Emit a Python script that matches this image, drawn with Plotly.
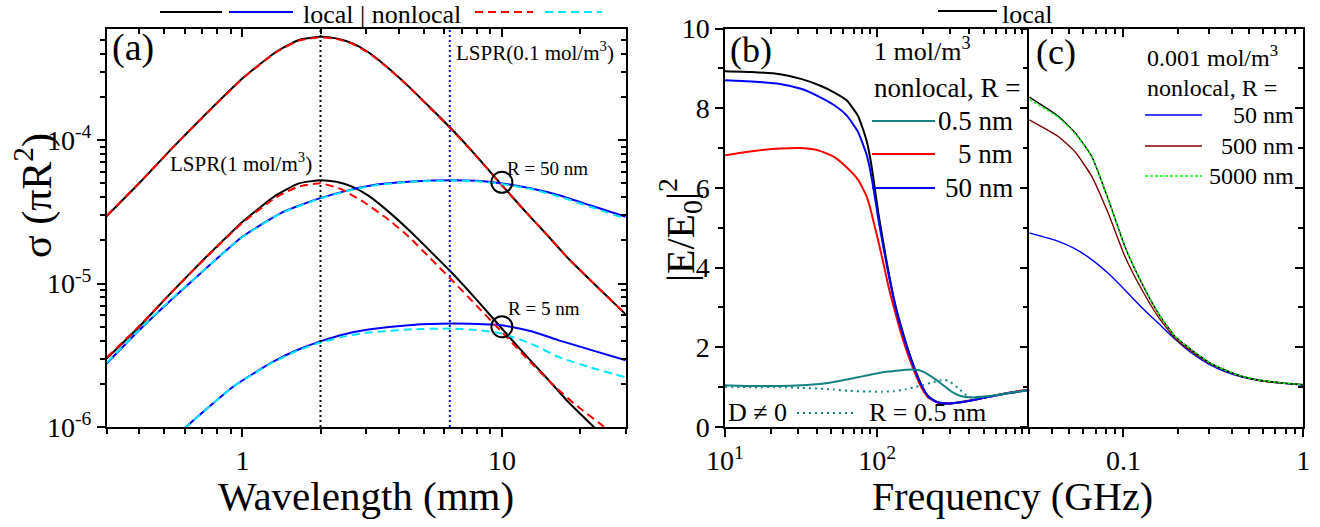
import math
import plotly.graph_objects as go

FONT = "Liberation Serif"
W, H = 1320, 527
OFF = 0  # body margin removed by post_script

# ================= DATA =================
# ---- panel (a): sigma (pi R^2) vs wavelength (mm) ----
wl_1mol = [0.3, 0.4, 0.54, 0.725, 1.0, 1.35, 1.65, 2.0, 2.3, 2.66, 3.06, 3.6, 4.39, 5.3, 6.44, 8.0, 9.86, 12.0, 14.7, 18.0, 22.6, 30.0]
loc_r50_1mol = [2.95e-5, 5.0e-5, 8.9e-5, 1.53e-4, 2.69e-4, 4.13e-4, 4.99e-4, 5.25e-4, 5.12e-4, 4.72e-4, 4.1e-4, 3.25e-4, 2.35e-4, 1.68e-4, 1.18e-4, 7.7e-5, 5.0e-5, 3.35e-5, 2.25e-5, 1.5e-5, 1.0e-5, 6.1e-6]
nl_r50_1mol = [2.97e-5, 5.02e-5, 8.9e-5, 1.52e-4, 2.68e-4, 4.1e-4, 4.95e-4, 5.2e-4, 5.08e-4, 4.68e-4, 4.07e-4, 3.23e-4, 2.34e-4, 1.67e-4, 1.17e-4, 7.65e-5, 4.98e-5, 3.35e-5, 2.25e-5, 1.5e-5, 1.0e-5, 6.1e-6]
loc_r5_1mol = [3.0e-6, 5.0e-6, 8.9e-6, 1.53e-5, 2.69e-5, 4.13e-5, 4.99e-5, 5.26e-5, 5.12e-5, 4.72e-5, 4.1e-5, 3.25e-5, 2.35e-5, 1.68e-5, 1.18e-5, 7.7e-6, 5.0e-6, 3.35e-6, 2.25e-6, 1.5e-6, 1.0e-6, 6.1e-7]

wl_nl_r5_1mol = [0.3, 0.4, 0.54, 0.725, 1.0, 1.35, 1.65, 2.0, 2.4, 2.9, 3.6, 4.39, 5.3, 6.44, 8.0, 9.86, 12.5, 15.6, 19.5, 24.3, 30.0]
nl_r5_1mol = [3.05e-6, 5.05e-6, 8.9e-6, 1.52e-5, 2.65e-5, 4.0e-5, 4.75e-5, 5.0e-5, 4.55e-5, 3.75e-5, 2.85e-5, 2.11e-5, 1.5e-5, 1.05e-5, 7.0e-6, 4.72e-6, 3.0e-6, 2.0e-6, 1.4e-6, 1.03e-6, 7.6e-7]

wl_r50_01mol = [0.3, 0.4, 0.54, 0.725, 1.0, 1.43, 1.97, 2.6, 3.3, 4.5, 6.44, 8.0, 10.0, 13.0, 16.6, 22.0, 30.0]
loc_r50_01mol = [2.77e-6, 4.72e-6, 7.9e-6, 1.28e-5, 2.12e-5, 3.15e-5, 3.91e-5, 4.5e-5, 4.9e-5, 5.15e-5, 5.26e-5, 5.2e-5, 4.99e-5, 4.6e-5, 4.13e-5, 3.5e-5, 2.92e-5]
nl_r50_01mol = [2.8e-6, 4.75e-6, 7.95e-6, 1.28e-5, 2.11e-5, 3.13e-5, 3.89e-5, 4.47e-5, 4.87e-5, 5.12e-5, 5.23e-5, 5.17e-5, 4.95e-5, 4.55e-5, 4.05e-5, 3.42e-5, 2.83e-5]

wl_r5_01mol = [0.55, 0.607, 0.75, 0.918, 1.1, 1.31, 1.6, 1.97, 2.5, 3.06, 4.5, 6.44, 8.0, 10.0, 13.0, 16.6, 22.0, 30.0]
loc_r5_01mol = [8.4e-7, 1.0e-6, 1.4e-6, 1.9e-6, 2.35e-6, 2.84e-6, 3.4e-6, 3.92e-6, 4.45e-6, 4.78e-6, 5.15e-6, 5.26e-6, 5.22e-6, 5.12e-6, 4.65e-6, 4.02e-6, 3.45e-6, 2.92e-6]
nl_r5_01mol = [8.4e-7, 1.0e-6, 1.4e-6, 1.9e-6, 2.34e-6, 2.82e-6, 3.36e-6, 3.85e-6, 4.3e-6, 4.55e-6, 4.8e-6, 4.85e-6, 4.75e-6, 4.48e-6, 3.8e-6, 3.07e-6, 2.6e-6, 2.22e-6]

lspr_wl = [2.0, 6.3]                 # LSPR for 1 and 0.1 mol/m^3
circle_wl = [10.0, 10.0]
circle_sig = [5.08e-5, 5.0e-6]

# ---- panel (b): |E/E0|^2 vs frequency, 1 mol/m^3 ----
f_b = [10, 15, 23, 32, 42, 52, 63, 75, 85, 90, 94, 102, 110, 120, 132, 145, 160, 177, 195, 217, 250, 293, 380, 486, 700, 1000]
e_local_b = [8.93, 8.91, 8.85, 8.73, 8.57, 8.4, 8.2, 7.8, 7.2, 6.75, 6.3, 5.35, 4.6, 3.8, 3.05, 2.47, 1.93, 1.45, 1.06, 0.77, 0.62, 0.59, 0.64, 0.72, 0.84, 0.93]
e_r50_b = [8.70, 8.67, 8.61, 8.48, 8.28, 8.08, 7.82, 7.4, 6.85, 6.45, 6.05, 5.2, 4.5, 3.75, 3.0, 2.43, 1.9, 1.43, 1.05, 0.76, 0.62, 0.59, 0.64, 0.72, 0.84, 0.93]
e_r5_b = [6.82, 6.92, 6.99, 7.0, 6.93, 6.78, 6.52, 6.2, 5.8, 5.5, 5.2, 4.65, 4.1, 3.45, 2.85, 2.3, 1.8, 1.36, 1.0, 0.74, 0.61, 0.59, 0.64, 0.72, 0.85, 0.94]
f_b05 = [10, 15, 23, 32, 42, 52, 64.6, 80, 95, 118, 140, 165, 186, 205, 230, 265, 310, 359, 420, 486, 600, 750, 1000]
e_r05_b = [1.05, 1.03, 1.03, 1.05, 1.08, 1.13, 1.2, 1.27, 1.33, 1.39, 1.42, 1.44, 1.43, 1.37, 1.25, 1.08, 0.88, 0.77, 0.74, 0.76, 0.8, 0.86, 0.93]
f_bD = [10, 15, 23, 32, 42, 52, 64.6, 85, 107, 130, 155, 177, 200, 230, 260, 279, 300, 342, 398, 450, 520, 620, 800, 1000]
e_r05_D_b = [1.01, 1.0, 1.0, 0.98, 0.96, 0.94, 0.91, 0.89, 0.885, 0.9, 0.95, 1.0, 1.05, 1.12, 1.17, 1.18, 1.14, 0.97, 0.76, 0.73, 0.75, 0.8, 0.87, 0.93]

# ---- panel (c): |E/E0|^2 vs frequency (GHz), 0.001 mol/m^3 ----
f_c = [0.03, 0.0435, 0.054, 0.0667, 0.0826, 0.102, 0.1265, 0.156, 0.194, 0.24, 0.3, 0.367, 0.45, 0.562, 0.75, 1.0]
e_local_c = [8.28, 7.80, 7.38, 6.79, 5.70, 4.53, 3.61, 2.86, 2.27, 1.93, 1.62, 1.43, 1.28, 1.18, 1.11, 1.06]
e_r5000_c = [8.22, 7.77, 7.36, 6.78, 5.70, 4.53, 3.61, 2.86, 2.27, 1.93, 1.62, 1.43, 1.28, 1.18, 1.11, 1.06]
e_r500_c = [7.71, 7.29, 6.9, 6.29, 5.35, 4.28, 3.45, 2.77, 2.22, 1.89, 1.6, 1.42, 1.27, 1.17, 1.1, 1.06]
e_r50_c = [4.87, 4.66, 4.47, 4.20, 3.85, 3.44, 3.0, 2.61, 2.2, 1.85, 1.57, 1.39, 1.26, 1.17, 1.1, 1.05]

# tick definitions
a_xticks = [1, 10]
a_xlabels = ["1", "10"]
a_xminor = [0.3, 0.4, 0.5, 0.6, 0.7, 0.8, 0.9, 2, 3, 4, 5, 6, 7, 8, 9, 20, 30]
a_yticks = [1e-6, 1e-5, 1e-4]
a_ylabels = ["10<sup>-6</sup>", "10<sup>-5</sup>", "10<sup>-4</sup>"]
a_yminor = [2e-6, 3e-6, 4e-6, 5e-6, 6e-6, 7e-6, 8e-6, 9e-6, 2e-5, 3e-5, 4e-5, 5e-5, 6e-5, 7e-5, 8e-5, 9e-5, 2e-4, 3e-4, 4e-4, 5e-4]
b_xticks = [10, 100]
b_xlabels = ["10<sup>1</sup>", "10<sup>2</sup>"]
b_xminor = [20, 30, 40, 50, 60, 70, 80, 90, 200, 300, 400, 500, 600, 700, 800, 900]
e_yticks = [0, 2, 4, 6, 8, 10]
e_yminor = [1, 3, 5, 7, 9]
c_xticks = [0.1, 1]
c_xlabels = ["0.1", "1"]
c_xminor = [0.03, 0.04, 0.05, 0.06, 0.07, 0.08, 0.09, 0.2, 0.3, 0.4, 0.5, 0.6, 0.7, 0.8, 0.9]

# ================= FIGURE =================
BLACK, BLUE, RED, CYAN = "#000000", "#0000ff", "#ff0000", "#00e5ff"
TEAL, DRED, GREEN = "#148282", "#800000", "#00ff00"
DASH = "8px,5px"

fig = go.Figure()


def line(x, y, color, width=2, dash="solid", xa="x", ya="y"):
    fig.add_trace(go.Scatter(x=x, y=y, mode="lines", xaxis=xa, yaxis=ya,
                             line=dict(color=color, width=width, dash=dash, shape="spline", smoothing=0.5),
                             showlegend=False, hoverinfo="skip"))


# panel (a)
line(wl_1mol, loc_r50_1mol, BLACK)
line(wl_1mol, loc_r5_1mol, BLACK)
line(wl_r50_01mol, loc_r50_01mol, BLUE)
line(wl_r5_01mol, loc_r5_01mol, BLUE)
line(wl_1mol, nl_r50_1mol, RED, dash=DASH)
line(wl_nl_r5_1mol, nl_r5_1mol, RED, dash=DASH)
line(wl_r50_01mol, nl_r50_01mol, CYAN, dash=DASH)
line(wl_r5_01mol, nl_r5_01mol, CYAN, dash=DASH)
for wl, col in zip(lspr_wl, [BLACK, BLUE]):
    fig.add_trace(go.Scatter(x=[wl, wl], y=[1e-6, 6e-4], mode="lines",
                             line=dict(color=col, width=2, dash="2px,3px"),
                             showlegend=False, hoverinfo="skip"))
fig.add_trace(go.Scatter(x=circle_wl, y=circle_sig, mode="markers",
                         marker=dict(symbol="circle-open", size=21, color=BLACK, line=dict(width=2)),
                         showlegend=False, hoverinfo="skip"))

# panel (b)
line(f_b, e_local_b, BLACK, xa="x2", ya="y2")
line(f_b, e_r5_b, RED, xa="x2", ya="y2")
line(f_b, e_r50_b, BLUE, xa="x2", ya="y2")
line(f_b05, e_r05_b, TEAL, xa="x2", ya="y2")
line(f_bD, e_r05_D_b, TEAL, dash="2px,4px", xa="x2", ya="y2")

# panel (c)
line(f_c, e_r50_c, BLUE, width=1.4, xa="x3", ya="y3")
line(f_c, e_r500_c, DRED, width=1.4, xa="x3", ya="y3")
line(f_c, e_local_c, BLACK, width=1.4, xa="x3", ya="y3")
line(f_c, e_r5000_c, GREEN, width=1.4, dash="3px,2px", xa="x3", ya="y3")

# dummy traces to activate mirror-tick axes
for xa, ya in [("x4", "y"), ("x", "y4"), ("x5", "y2"), ("x6", "y3"), ("x3", "y6")]:
    fig.add_trace(go.Scatter(x=[None], y=[None], xaxis=xa, yaxis=ya, showlegend=False, hoverinfo="skip"))


def px(x):
    return (x - OFF) / W


def py(y):
    return 1 - (y - OFF) / H


YDOM = [py(427), py(28.5)]
XA = [px(106.7), px(625.7)]
XB = [px(725), px(1029.3)]
XC = [px(1029.3), px(1303.3)]
TF = dict(family=FONT, size=28, color="black")


def ax(**kw):
    d = dict(showgrid=False, zeroline=False, showline=True, linecolor="black", linewidth=1.5,
             ticks="outside", ticklen=8, tickwidth=1.5, tickcolor="black", tickfont=TF,
             automargin=False)
    d.update(kw)
    return d


def minor(vals, ticks="outside"):
    return dict(tickmode="array", tickvals=vals, ticks=ticks, ticklen=5, tickwidth=1.5,
                tickcolor="black", showgrid=False)


ra_x = [math.log10(0.3), math.log10(30)]
ra_y = [-6, math.log10(6e-4)]
rb_x = [1, 3]
rc_x = [math.log10(0.03), 0]

fig.update_layout(
    width=W, height=H, margin=dict(l=0, r=0, t=0, b=0, autoexpand=False),
    paper_bgcolor="white", plot_bgcolor="white", showlegend=False,
    font=dict(family=FONT, color="black"),
    xaxis=ax(type="log", range=ra_x, domain=XA, anchor="y", mirror=True,
             tickmode="array", tickvals=a_xticks, ticktext=a_xlabels, minor=minor(a_xminor)),
    yaxis=ax(type="log", range=ra_y, domain=YDOM, anchor="x", mirror=True,
             tickmode="array", tickvals=a_yticks, ticktext=a_ylabels, minor=minor(a_yminor)),
    xaxis4=ax(type="log", range=ra_x, overlaying="x", anchor="y", side="top", ticks="inside", showline=False,
              showticklabels=False, tickmode="array", tickvals=a_xticks, minor=minor(a_xminor, "inside")),
    yaxis4=ax(type="log", range=ra_y, overlaying="y", anchor="x", side="right", ticks="inside", showline=False,
              showticklabels=False, tickmode="array", tickvals=a_yticks, minor=minor(a_yminor, "inside")),
    xaxis2=ax(type="log", range=rb_x, domain=XB, anchor="y2", mirror=True,
              tickmode="array", tickvals=b_xticks, ticktext=b_xlabels, minor=minor(b_xminor)),
    yaxis2=ax(range=[0, 10], domain=YDOM, anchor="x2", mirror=False,
              tickmode="array", tickvals=e_yticks, minor=minor(e_yminor)),
    xaxis5=ax(type="log", range=rb_x, overlaying="x2", anchor="y2", side="top", ticks="inside", showline=False,
              showticklabels=False, tickmode="array", tickvals=b_xticks, minor=minor(b_xminor, "inside")),
    xaxis3=ax(type="log", range=rc_x, domain=XC, anchor="y3", mirror=True,
              tickmode="array", tickvals=c_xticks, ticktext=c_xlabels, minor=minor(c_xminor)),
    yaxis3=ax(range=[0, 10], domain=YDOM, anchor="x3", mirror=True, showticklabels=False,
              tickmode="array", tickvals=e_yticks, minor=minor(e_yminor)),
    xaxis6=ax(type="log", range=rc_x, overlaying="x3", anchor="y3", side="top", ticks="inside", showline=False,
              showticklabels=False, tickmode="array", tickvals=c_xticks, minor=minor(c_xminor, "inside")),
    yaxis6=ax(range=[0, 10], overlaying="y3", anchor="x3", side="right", ticks="inside", showline=False,
              showticklabels=False, tickmode="array", tickvals=e_yticks, minor=minor(e_yminor, "inside")),
)


def txt(x, y, s, size, xanchor="left", angle=0):
    fig.add_annotation(x=px(x), y=py(y), xref="paper", yref="paper", text=s, showarrow=False,
                       xanchor=xanchor, yanchor="middle", textangle=angle,
                       font=dict(family=FONT, size=size, color="black"))


def seg(x0, x1, y, color, dash="solid", width=2):
    fig.add_shape(type="line", xref="paper", yref="paper", x0=px(x0), x1=px(x1), y0=py(y), y1=py(y),
                  line=dict(color=color, width=width, dash=dash))


# axis titles
txt(366, 496, "Wavelength (mm)", 41, "center")
txt(1012, 496, "Frequency (GHz)", 40, "center")
txt(34, 196, "σ (πR<sup>2</sup>)", 42, "center", -90)
txt(680, 230, "|E/E<sub>0</sub>|<sup>2</sup>", 40, "center", -90)

# panel (a) texts
txt(110, 48, "(a)", 38)
txt(314, 162, "LSPR(1 mol/m<sup>3</sup>)", 21, "right")
txt(454, 52, "LSPR(0.1 mol/m<sup>3</sup>)", 21)
txt(505, 168, "R = 50 nm", 19)
txt(506, 308, "R = 5 nm", 19)
# top legend (a)
seg(160, 222, 12, BLACK)
seg(229, 293, 12, BLUE)
txt(382, 15, "local | nonlocal", 26, "center")
seg(475, 533, 12, RED, DASH)
seg(545, 602, 12, CYAN, DASH)

# panel (b) texts
txt(728, 50, "(b)", 36)
txt(872, 50, "1 mol/m<sup>3</sup>", 26)
txt(872, 88, "nonlocal, R =", 27)
seg(872, 935, 121, TEAL)
txt(1015, 121, "0.5 nm", 27, "right")
seg(872, 935, 154, RED)
txt(1015, 154, "5 nm", 27, "right")
seg(872, 935, 188, BLUE)
txt(1015, 188, "50 nm", 27, "right")
txt(726, 412, "D ≠ 0", 26)
seg(797, 855, 413, TEAL, "2px,4px")
txt(867, 412, "R = 0.5 nm", 26)
seg(938, 997, 11, BLACK)
txt(1000, 14, "local", 26)

# panel (c) texts
txt(1034, 52, "(c)", 36)
txt(1145, 56, "0.001 mol/m<sup>3</sup>", 24)
txt(1145, 88, "nonlocal, R =", 24)
seg(1145, 1202, 115, BLUE, width=1.4)
txt(1296, 115, "50 nm", 24, "right")
seg(1145, 1202, 146, DRED, width=1.4)
txt(1296, 146, "500 nm", 24, "right")
seg(1145, 1202, 176, GREEN, "3px,2px", width=1.4)
txt(1296, 176, "5000 nm", 24, "right")

fig.write_html("out.html", config={"displayModeBar": False},
               post_script="document.body.style.margin='0px';document.body.style.padding='0px';")
